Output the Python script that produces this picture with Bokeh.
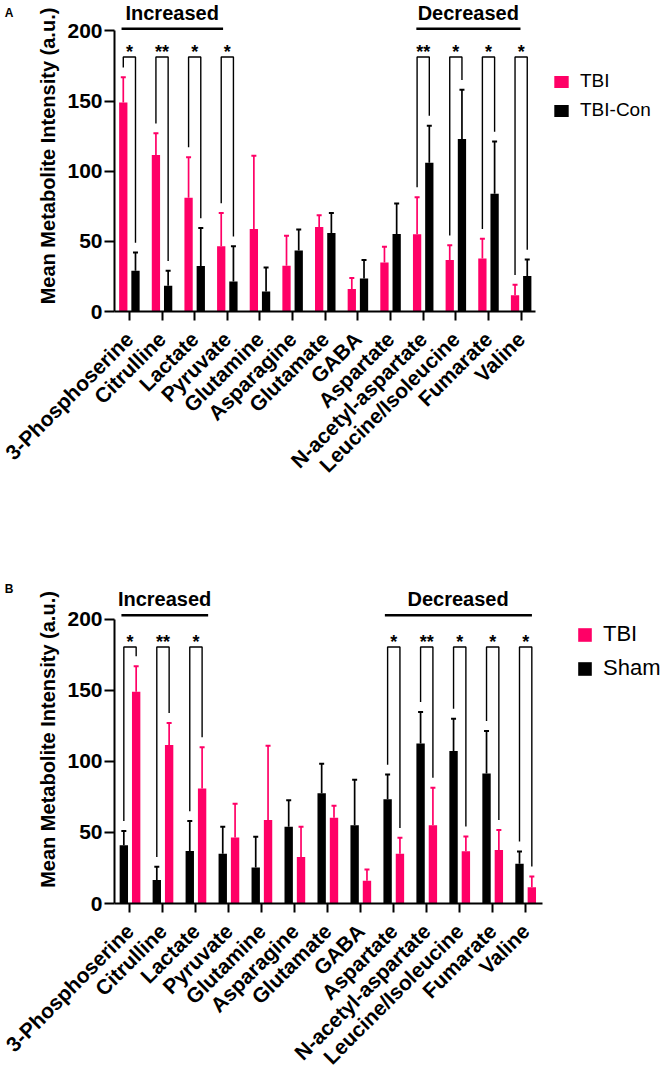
import math
from bokeh.plotting import figure
from bokeh.models import (Range1d, FixedTicker, Legend, LegendItem, Label,
                          ColumnDataSource, Whisker, TeeHead, LinearAxis)
from bokeh.layouts import column
from bokeh.embed import file_html
from bokeh.resources import INLINE
from bokeh.core.properties import value

FONT = "Liberation Sans"
PINK = "#FF0066"
BLACK = "#000000"

metabolites = ["3-Phosphoserine", "Citrulline", "Lactate", "Pyruvate", "Glutamine",
               "Asparagine", "Glutamate", "GABA", "Aspartate", "N-acetyl-aspartate",
               "Leucine/Isoleucine", "Fumarate", "Valine"]

tbi_mean = [149, 111.5, 81, 46.5, 58.8, 32.7, 60.3, 16, 35, 55, 36.8, 37.7, 11.5]
tbi_err = [18, 15.5, 29, 23.7, 52.2, 21.3, 8.4, 7.9, 11.2, 26.5, 10.4, 14.1, 7.5]

tbicon_mean = [29, 18.3, 32.5, 21.3, 14.3, 43.5, 56, 23.5, 55.3, 106, 123, 84, 25.3]
tbicon_err = [13, 10.7, 27, 25.2, 17.1, 14.9, 14.3, 13.3, 21.7, 26.5, 35, 37.2, 11.7]

sham_mean = [41, 16.6, 37, 35, 25.3, 54, 77.6, 55, 73.4, 112.5, 107.3, 91.4, 27.9]
sham_err = [10, 9.2, 21, 19, 21.6, 18.7, 20.8, 32, 17.3, 22.3, 22.7, 30, 8.7]

sig_a_idx = [0, 1, 2, 3, 9, 10, 11, 12]
sig_a_stars = ["*", "**", "*", "*", "**", "*", "*", "*"]
sig_b_idx = [0, 1, 2, 8, 9, 10, 11, 12]
sig_b_stars = ["*", "**", "*", "*", "**", "*", "*", "*"]

y_ticks = [0, 50, 100, 150, 200]


def make_panel(letter, left, right, legend_order, sig_idx, sig_stars, cfg):
    n = len(metabolites)
    p = figure(frame_width=548, frame_height=cfg["frame_h"],
               min_border_left=114, min_border_right=0, min_border_top=0,
               min_border_bottom=cfg["border_b"],
               x_range=Range1d(cfg["x0"], cfg["x1"]),
               y_range=Range1d(0, cfg["y1"]),
               output_backend="svg", toolbar_location=None)
    p.outline_line_color = None
    p.xgrid.visible = False
    p.ygrid.visible = False
    p.background_fill_color = "white"
    p.border_fill_color = "white"

    off = 0.187
    bw = 0.254
    renderers = {}
    for side, ser in (("L", left), ("R", right)):
        name, mean, err, color = ser
        sgn = -1 if side == "L" else 1
        xs = [i + sgn * off for i in range(n)]
        src = ColumnDataSource(dict(x=xs, top=mean,
                                    up=[m + e for m, e in zip(mean, err)]))
        r = p.vbar(x="x", top="top", width=bw, source=src,
                   fill_color=color, line_color=None)
        renderers[name] = r
        w = Whisker(base="x", lower="top", upper="up", source=src,
                    dimension="height", line_color=color, line_width=1.7,
                    lower_head=None,
                    upper_head=TeeHead(size=5, line_color=color, line_width=2))
        p.add_layout(w)

    # significance brackets
    gap = 7
    top = cfg["br_top"]
    lu = [m + e for m, e in zip(left[1], left[2])]
    ru = [m + e for m, e in zip(right[1], right[2])]
    bxs, bys = [], []
    for i in sig_idx:
        xl, xr = i - off, i + off
        bxs.append([xl, xl, xr, xr])
        bys.append([lu[i] + gap, top, top, ru[i] + gap])
    p.multi_line(xs=bxs, ys=bys, line_color="black", line_width=1.4)
    p.text(x=sig_idx, y=[top] * len(sig_idx), text=sig_stars,
           text_align="center", text_baseline="alphabetic",
           text_font=value(FONT), text_font_style="bold",
           text_font_size="18px", text_color="black", y_offset=-5)

    # group lines and titles
    for (gx0, gx1, tx, title) in cfg["groups"]:
        p.line(x=[gx0, gx1], y=[cfg["gl_y"]] * 2, line_color="black", line_width=2.6)
        p.add_layout(Label(x=tx, y=cfg["gt_y"], text=title, text_align="center",
                           text_baseline="alphabetic", text_font=FONT,
                           text_font_style="bold", text_font_size="20px",
                           text_color="black"))

    # axes
    ya = p.yaxis[0]
    ya.ticker = FixedTicker(ticks=y_ticks)
    ya.bounds = (0, 200)
    ya.axis_line_width = 2
    ya.axis_line_color = "black"
    ya.major_tick_line_width = 2
    ya.major_tick_line_color = "black"
    ya.major_tick_out = 10
    ya.major_tick_in = 0
    ya.minor_tick_line_color = None
    ya.major_label_text_font = FONT
    ya.major_label_text_font_style = "bold"
    ya.major_label_text_font_size = "21px"
    ya.major_label_text_color = "black"
    ya.major_label_standoff = 2
    ya.axis_label = "Mean Metabolite Intensity (a.u.)"
    ya.axis_label_text_font = FONT
    ya.axis_label_text_font_style = "bold"
    ya.axis_label_text_font_size = "20px"
    ya.axis_label_text_color = "black"
    ya.axis_label_standoff = 5

    # panel letter, drawn as the single label of an outer left axis
    lv = cfg["letter_val"]
    la = LinearAxis(ticker=FixedTicker(ticks=[lv]),
                    major_label_overrides={lv: letter},
                    axis_line_color=None, major_tick_line_color=None,
                    minor_tick_line_color=None, major_tick_out=0, major_tick_in=0,
                    major_label_text_font=FONT, major_label_text_font_style="bold",
                    major_label_text_font_size="12px", major_label_text_color="black",
                    major_label_standoff=cfg["letter_so"])
    p.add_layout(la, "left")

    xa = p.xaxis[0]
    xa.ticker = FixedTicker(ticks=list(range(n)))
    xa.major_label_overrides = {i: m for i, m in enumerate(metabolites)}
    xa.bounds = (cfg["x0"], cfg["xb"])
    xa.axis_line_width = 2
    xa.axis_line_color = "black"
    xa.major_tick_line_width = 2
    xa.major_tick_line_color = "black"
    xa.major_tick_out = 9
    xa.major_tick_in = 0
    xa.minor_tick_line_color = None
    xa.major_label_orientation = math.pi / 4
    xa.major_label_text_font = FONT
    xa.major_label_text_font_style = "bold"
    xa.major_label_text_font_size = "21px"
    xa.major_label_text_color = "black"
    xa.major_label_standoff = 15

    items = [LegendItem(label=nm, renderers=[renderers[nm]]) for nm in legend_order]
    leg = Legend(items=items, location=cfg["leg_loc"], padding=0, margin=0,
                 border_line_color=None, background_fill_alpha=0,
                 glyph_width=cfg["leg_gw"], glyph_height=cfg["leg_gh"],
                 label_standoff=10, spacing=cfg["leg_sp"],
                 label_text_font=FONT, label_text_font_size=cfg["leg_fs"],
                 label_text_color="black", label_height=cfg["leg_gh"])
    p.add_layout(leg)
    return p


cfg_a = dict(frame_h=311, border_b=264, x0=-0.456, x1=16.33, xb=12.44, y1=221.7,
             br_top=181.4, gl_y=201.6, gt_y=212.8,
             groups=[(-0.24, 2.87, 1.31, "Increased"), (8.79, 11.98, 10.38, "Decreased")],
             letter_val=213, letter_so=21,
             leg_loc=(438, 190), leg_gw=18, leg_gh=15, leg_sp=7, leg_fs="19px")
cfg_b = dict(frame_h=328, border_b=165, x0=-0.47, x1=16.15, xb=12.51, y1=230.8,
             br_top=180.5, gl_y=202.8, gt_y=214.4,
             groups=[(-0.26, 2.37, 1.05, "Increased"), (7.73, 12.19, 9.95, "Decreased")],
             letter_val=221, letter_so=21,
             leg_loc=(462, 222), leg_gw=17, leg_gh=17, leg_sp=8, leg_fs="22px")

pa = make_panel("A", ("TBI", tbi_mean, tbi_err, PINK),
                ("TBI-Con", tbicon_mean, tbicon_err, BLACK),
                ["TBI", "TBI-Con"], sig_a_idx, sig_a_stars, cfg_a)
pb = make_panel("B", ("Sham", sham_mean, sham_err, BLACK),
                ("TBI", tbi_mean, tbi_err, PINK),
                ["TBI", "Sham"], sig_b_idx, sig_b_stars, cfg_b)

layout = column(pa, pb, spacing=0)
open("out.html", "w").write(file_html(layout, INLINE))
